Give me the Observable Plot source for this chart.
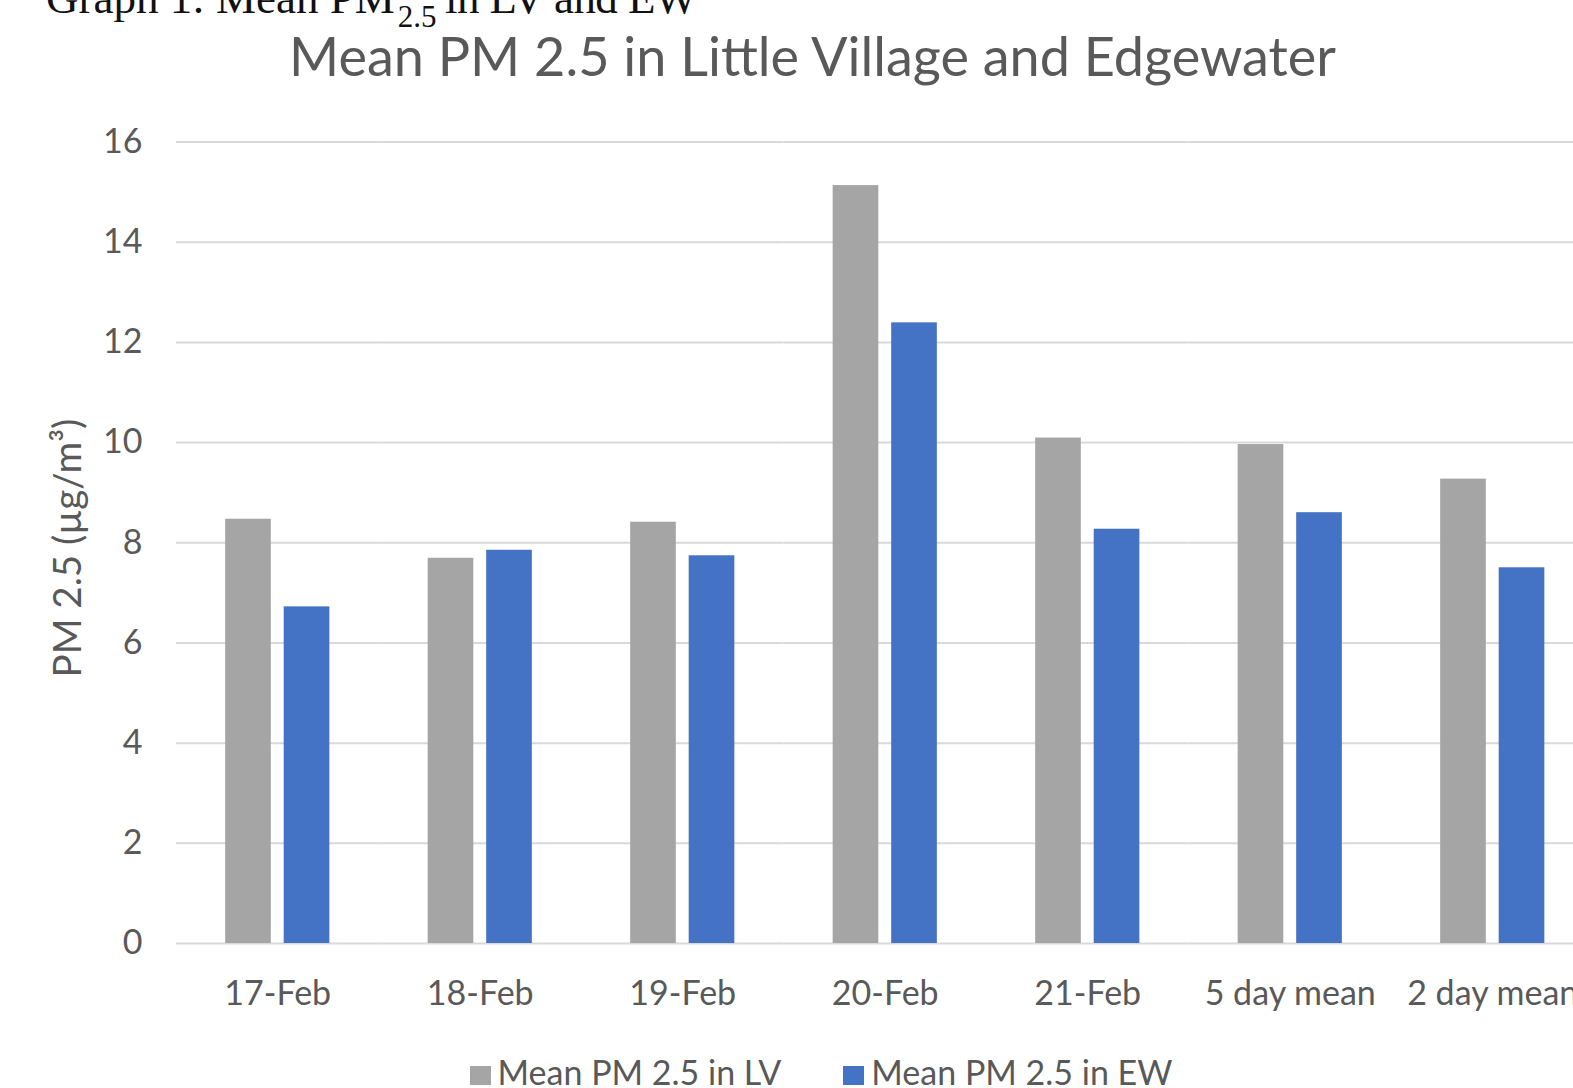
<!DOCTYPE html>
<html>
<head>
<meta charset="utf-8">
<script src="https://cdn.jsdelivr.net/npm/d3@7"></script>
<script src="https://cdn.jsdelivr.net/npm/@observablehq/plot@0.6"></script>
<style>
  html, body { margin: 0; padding: 0; background: #fff; overflow: hidden; width: 1573px; height: 1088px; }
  #root { position: relative; width: 1573px; height: 1088px; overflow: hidden; }
  .abs { position: absolute; white-space: nowrap; }
  #heading { left: 46px; top: -24px; font-family: "Liberation Serif", serif; font-size: 45px; line-height: 1; color: #111; }
  #heading sub { font-size: 31px; vertical-align: -14px; line-height: 0; margin-left: 3px; margin-right: -2px; }
  #heading .rest { letter-spacing: -0.6px; }
  #title { left: 0; width: 1625px; top: 29px; text-align: center; font-family: Lato, sans-serif; font-size: 54px; line-height: 1; color: #595959; }
  #chart { left: 0; top: 0; width: 1600px; }
  #chart svg { max-width: none !important; }
  #ylabel { left: 66px; top: 548px; transform: translate(-50%, -50%) rotate(-90deg); font-family: Lato, sans-serif; font-size: 38.5px; line-height: 1; color: #595959; }
  #legend { left: 0; width: 1642px; top: 1055px; text-align: center; font-family: Lato, sans-serif; font-size: 34px; line-height: 1; color: #595959; }
  .item { display: inline-block; }
  .swatch { display: inline-block; width: 21px; height: 19px; margin-right: 7px; vertical-align: baseline; }
</style>
</head>
<body>
<div id="root">
  <div id="chart" class="abs"></div>
  <div id="heading" class="abs">Graph 1: Mean PM<sub>2.5</sub><span class="rest"> in LV and EW</span></div>
  <div id="title" class="abs">Mean PM 2.5 in Little Village and Edgewater</div>
  <div id="ylabel" class="abs"></div>
  <div id="legend" class="abs"></div>
</div>
<script>
const categories = ["17-Feb", "18-Feb", "19-Feb", "20-Feb", "21-Feb", "5 day mean", "2 day mean"];
const seriesKeys = ["LV", "EW"];
const seriesNames = ["Mean PM 2.5 in LV", "Mean PM 2.5 in EW"];
const seriesColors = ["#A5A5A5", "#4472C4"];
const lvValues = [8.47, 7.69, 8.41, 15.13, 10.09, 9.96, 9.27];
const ewValues = [6.72, 7.85, 7.74, 12.39, 8.27, 8.60, 7.50];
const yTicks = [0, 2, 4, 6, 8, 10, 12, 14, 16];
const yLabel = "PM 2.5 (µg/m³)";

const rows = [];
categories.forEach((c, i) => {
  rows.push({category: c, series: "LV", value: lvValues[i]});
  rows.push({category: c, series: "EW", value: ewValues[i]});
});

const chart = Plot.plot({
  width: 1600,
  height: 1020,
  marginTop: 141.5,
  marginBottom: 77,
  marginLeft: 176,
  marginRight: 6.5,
  style: {fontFamily: "Lato, sans-serif", fontSize: "34px", color: "#595959", background: "transparent", overflow: "visible"},
  facet: {data: rows, x: "category", label: null},
  fx: {domain: categories, padding: 0, round: false, axis: "bottom", tickSize: 0, tickPadding: 37, label: null},
  x: {domain: seriesKeys, paddingInner: 0.22, paddingOuter: 0.84, round: false, axis: null},
  y: {domain: [0, 16], ticks: yTicks, tickSize: 0, tickPadding: 34, label: null},
  color: {domain: seriesKeys, range: seriesColors},
  marks: [
    Plot.ruleY(yTicks, {stroke: "#D9D9D9", strokeWidth: 2}),
    Plot.barY(rows, {x: "series", y: "value", fill: "series"})
  ]
});
chart.style.maxWidth = "none";
document.getElementById("chart").appendChild(chart);

document.getElementById("ylabel").textContent = yLabel;

const legend = document.getElementById("legend");
seriesNames.forEach((name, i) => {
  const item = document.createElement("span");
  item.className = "item";
  if (i > 0) item.style.marginLeft = "62px";
  const sw = document.createElement("span");
  sw.className = "swatch";
  sw.style.background = seriesColors[i];
  item.appendChild(sw);
  item.appendChild(document.createTextNode(name));
  legend.appendChild(item);
});
</script>
</body>
</html>
